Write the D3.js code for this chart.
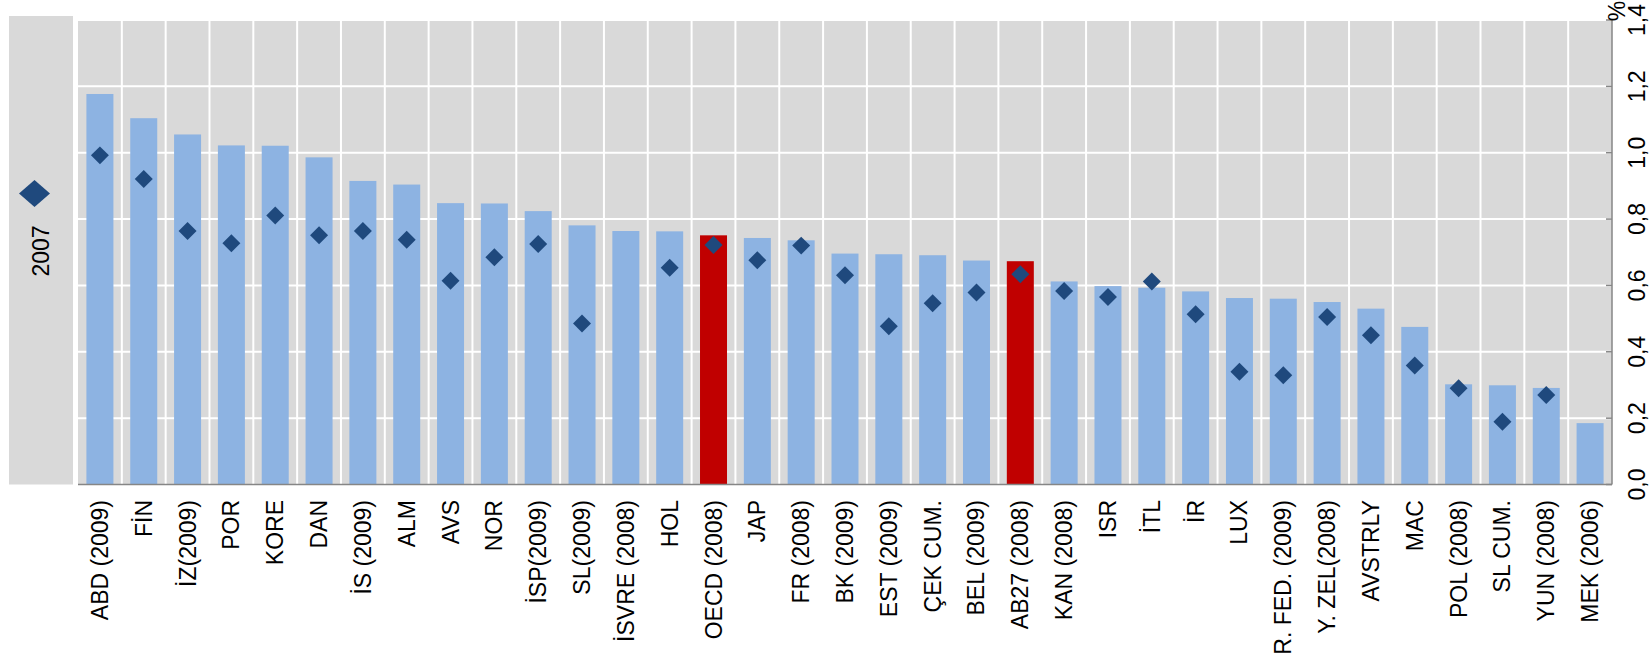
<!DOCTYPE html>
<html>
<head>
<meta charset="utf-8">
<script src="https://cdn.jsdelivr.net/npm/d3@7"></script>
<style>
  html, body { margin: 0; padding: 0; background: #fff; }
  svg { display: block; font-family: "Liberation Sans", Arial, sans-serif; }
</style>
</head>
<body>
<svg id="chart" width="1651" height="665"></svg>
<script>
// Country labels, in display order
const categories = [
  "ABD (2009)", "FİN", "İZ(2009)", "POR", "KORE", "DAN", "İS (2009)", "ALM",
  "AVS", "NOR", "İSP(2009)", "SL(2009)", "İSVRE (2008)", "HOL", "OECD (2008)",
  "JAP", "FR (2008)", "BK (2009)", "EST (2009)", "ÇEK CUM.", "BEL (2009)",
  "AB27 (2008)", "KAN (2008)", "ISR", "İTL", "İR", "LUX", "R. FED. (2009)",
  "Y. ZEL(2008)", "AVSTRLY", "MAC", "POL (2008)", "SL CUM.", "YUN (2008)", "MEK (2006)"
];

// Latest value (%) per country
const latestValues = [
  1.177, 1.104, 1.055, 1.022, 1.021, 0.986, 0.915, 0.904,
  0.848, 0.847, 0.824, 0.781, 0.764, 0.763, 0.751,
  0.743, 0.736, 0.696, 0.694, 0.691, 0.675,
  0.673, 0.612, 0.598, 0.593, 0.582, 0.562, 0.560,
  0.550, 0.530, 0.475, 0.302, 0.299, 0.291, 0.185
];

// 2007 value (%) per country; null where not available
const values2007 = [
  0.992, 0.921, 0.764, 0.727, 0.811, 0.751, 0.764, 0.738,
  0.614, 0.685, 0.725, 0.485, null, 0.653, 0.722,
  0.676, 0.720, 0.631, 0.477, 0.546, 0.579,
  0.634, 0.583, 0.565, 0.612, 0.513, 0.340, 0.329,
  0.505, 0.450, 0.359, 0.290, 0.189, 0.270, null
];

// Aggregates shown in red
const highlighted = ["OECD (2008)", "AB27 (2008)"];

const yTicks = [0, 0.2, 0.4, 0.6, 0.8, 1.0, 1.2, 1.4];
const legendLabel = "2007";
const unitLabel = "%";

const svg = d3.select("#chart");
const plot = { left: 78, right: 1612, top: 20, bottom: 484.5 };
const fontSize = 23;

const x = d3.scaleBand()
  .domain(categories)
  .range([plot.left, plot.right])
  .paddingInner(0.384)
  .paddingOuter(0.192);

const y = d3.scaleLinear()
  .domain([0, 1.4])
  .range([plot.bottom, plot.top]);

const step = x.step();
const bandStart = c => x(c) - x.paddingOuter() * step;

// Plot background
svg.append("rect")
  .attr("x", plot.left).attr("y", plot.top)
  .attr("width", plot.right - plot.left).attr("height", plot.bottom - plot.top)
  .attr("fill", "#d9d9d9");

// Legend panel
const legend = svg.append("g");
legend.append("rect")
  .attr("x", 9).attr("y", 16).attr("width", 64).attr("height", 468.5)
  .attr("fill", "#d9d9d9");
legend.append("path")
  .attr("d", "M34.5,180 L50,193.5 L34.5,207 L19,193.5 Z")
  .attr("fill", "#1f497d");
legend.append("text")
  .attr("transform", "translate(49,251) rotate(-90)")
  .attr("text-anchor", "middle")
  .attr("font-size", fontSize)
  .attr("fill", "#000")
  .text(legendLabel);

// Horizontal gridlines
svg.append("g").selectAll("line")
  .data(yTicks.slice(1))
  .join("line")
  .attr("x1", plot.left).attr("x2", plot.right)
  .attr("y1", d => y(d)).attr("y2", d => y(d))
  .attr("stroke", "#fff").attr("stroke-width", 2);

// Vertical gridlines between categories
svg.append("g").selectAll("line")
  .data(categories.slice(1))
  .join("line")
  .attr("x1", d => bandStart(d)).attr("x2", d => bandStart(d))
  .attr("y1", plot.top).attr("y2", plot.bottom)
  .attr("stroke", "#fff").attr("stroke-width", 2);

// Bars
svg.append("g").selectAll("rect")
  .data(categories.map((c, i) => ({ c, v: latestValues[i] })))
  .join("rect")
  .attr("x", d => x(d.c))
  .attr("width", x.bandwidth())
  .attr("y", d => y(d.v))
  .attr("height", d => y(0) - y(d.v))
  .attr("fill", d => highlighted.includes(d.c) ? "#c00000" : "#8db3e2");

// 2007 diamonds
const diamond = d3.symbol().type(d3.symbolDiamond2).size(206);
svg.append("g").selectAll("path")
  .data(categories.map((c, i) => ({ c, v: values2007[i] })).filter(d => d.v != null))
  .join("path")
  .attr("transform", d => `translate(${x(d.c) + x.bandwidth() / 2},${y(d.v)})`)
  .attr("d", diamond)
  .attr("fill", "#1f497d");

// Right value axis
const yAxis = svg.append("g");
yAxis.append("line")
  .attr("x1", plot.right).attr("x2", plot.right)
  .attr("y1", plot.top).attr("y2", plot.bottom)
  .attr("stroke", "#868686").attr("stroke-width", 1.5);
yAxis.selectAll("line.tick")
  .data(yTicks)
  .join("line")
  .attr("class", "tick")
  .attr("x1", plot.right - 6).attr("x2", plot.right)
  .attr("y1", d => y(d)).attr("y2", d => y(d))
  .attr("stroke", "#868686").attr("stroke-width", 1.5);
yAxis.selectAll("text")
  .data(yTicks)
  .join("text")
  .attr("transform", d => `translate(1645,${y(d)}) rotate(-90)`)
  .attr("text-anchor", "middle")
  .attr("font-size", fontSize)
  .attr("fill", "#000")
  .text(d => d3.format(".1f")(d).replace(".", ","));
svg.append("text")
  .attr("transform", "translate(1625,11) rotate(-90)")
  .attr("text-anchor", "middle")
  .attr("font-size", fontSize)
  .attr("fill", "#000")
  .text(unitLabel);

// Category axis
svg.append("line")
  .attr("x1", plot.left).attr("x2", plot.right)
  .attr("y1", plot.bottom).attr("y2", plot.bottom)
  .attr("stroke", "#868686").attr("stroke-width", 1.5);
svg.append("g").selectAll("text")
  .data(categories)
  .join("text")
  .attr("transform", d => `translate(${x(d) + x.bandwidth() / 2 + 8},500) rotate(-90)`)
  .attr("text-anchor", "end")
  .attr("font-size", fontSize)
  .attr("fill", "#000")
  .text(d => d);
</script>
</body>
</html>
